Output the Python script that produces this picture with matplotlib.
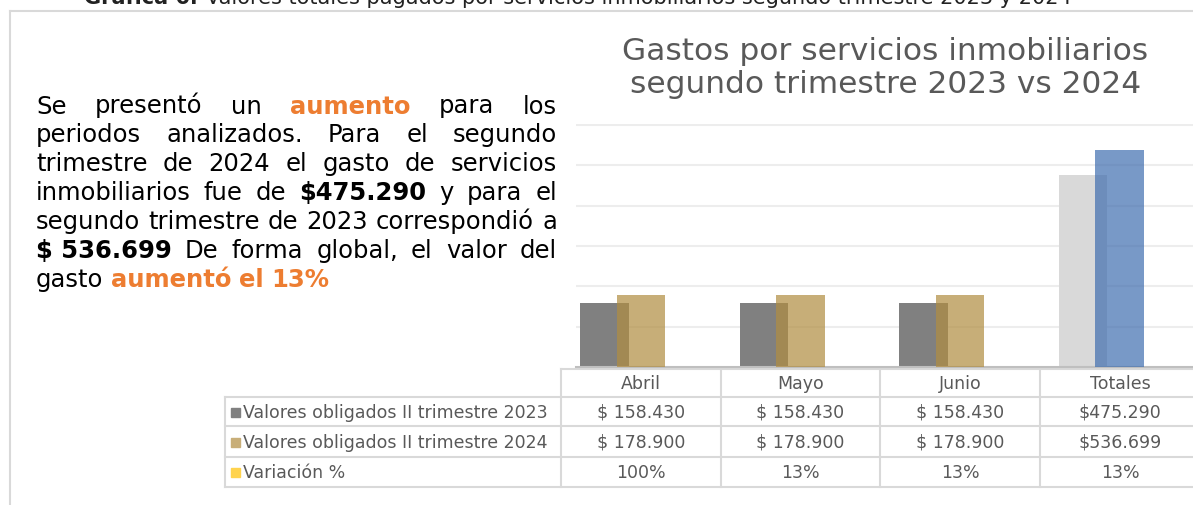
import matplotlib
matplotlib.use("Agg")
import matplotlib.pyplot as plt
import numpy as np

# data
categories = ["Abril", "Mayo", "Junio", "Totales"]
valores_2023 = [158.430, 158.430, 158.430, 475.290]
valores_2024 = [178.900, 178.900, 178.900, 536.699]
labels_2023 = ["$ 158.430", "$ 158.430", "$ 158.430", "$475.290"]
labels_2024 = ["$ 178.900", "$ 178.900", "$ 178.900", "$536.699"]
variacion = ["100%", "13%", "13%", "13%"]
row_names = ["Valores obligados II trimestre 2023",
             "Valores obligados II trimestre 2024",
             "Variación %"]

c2023 = ["#808080", "#808080", "#808080", "#D9D9D9"]
c2024 = ["#B18D41", "#B18D41", "#B18D41", "#416FB0"]
key_colors = ["#808080", "#C8AE78", "#FFD34D"]
orange = "#ED7D31"
grey_txt = "#595959"
line_c = "#D9D9D9"

W, H = 1193, 505
fig = plt.figure(figsize=(W / 100, H / 100), dpi=100, facecolor="w")
r = fig.canvas.get_renderer()

# overlay in pixel coords for text / table
ov = fig.add_axes([0, 0, 1, 1])
ov.set_xlim(0, W)
ov.set_ylim(H, 0)
ov.axis("off")

# bar chart axes (pixel box: x 576..1193, y 125..367)
ax = fig.add_axes([576 / W, (H - 367) / H, (W - 576) / W, (367 - 124) / H])
px = 159.5
x = np.arange(len(categories))
bw = 48.5 / px
off = 36.5 / px
ax.bar(x, valores_2023, width=bw, align="edge", color=c2023, zorder=2)
ax.bar(x + off, valores_2024, width=bw, align="edge", color=c2024, alpha=0.71, zorder=3)
ax.set_xlim(-4 / px, (W - 580) / px)
ax.set_ylim(0, 602)
ax.set_yticks(np.arange(100, 601, 100))
ax.yaxis.grid(True, color="#EDEDED", lw=1.5, zorder=0)
ax.set_xticks([])
ax.tick_params(left=False, labelleft=False)
for s in ["top", "right", "left"]:
    ax.spines[s].set_visible(False)
ax.spines["bottom"].set_color("#BFBFBF")
ax.spines["bottom"].set_linewidth(1.5)
ax.patch.set_alpha(0)

ov.text(885.5, 60, "Gastos por servicios inmobiliarios", ha="center", va="baseline",
        fontsize=22.5, color=grey_txt)
ov.text(885.5, 93, "segundo trimestre 2023 vs 2024", ha="center", va="baseline",
        fontsize=22.5, color=grey_txt)

# caption (cut at top edge as in the source)
cap_b = ov.text(84, 4, "Gráfica 6. ", fontsize=10, fontweight="bold", color="#222222", va="baseline")
cap_n = ov.text(84, 4, "Valores totales pagados por servicios inmobiliarios segundo trimestre 2023 y 2024",
                fontsize=10, color="#222222", va="baseline")
wb = cap_b.get_window_extent(r).width
wn = cap_n.get_window_extent(r).width
k = 989 / (wb + wn)
cap_b.set_fontsize(10 * k)
cap_n.set_fontsize(10 * k)
cap_n.set_x(84 + wb * k)

# frame
ov.plot([10, 10], [11, H], color=line_c, lw=1.5)
ov.plot([10, W], [11, 11], color=line_c, lw=1.5)

# justified paragraph
B = ("bold", "black")
O = ("bold", orange)
N = ("normal", "black")
lines = [
    [("Se", N), ("presentó", N), ("un", N), ("aumento", O), ("para", N), ("los", N)],
    [("periodos", N), ("analizados.", N), ("Para", N), ("el", N), ("segundo", N)],
    [("trimestre", N), ("de", N), ("2024", N), ("el", N), ("gasto", N), ("de", N), ("servicios", N)],
    [("inmobiliarios", N), ("fue", N), ("de", N), ("$475.290", B), ("y", N), ("para", N), ("el", N)],
    [("segundo", N), ("trimestre", N), ("de", N), ("2023", N), ("correspondió", N), ("a", N)],
    [("$ 536.699", B), ("De", N), ("forma", N), ("global,", N), ("el", N), ("valor", N), ("del", N)],
    [("gasto", N), ("aumentó", O), ("el", O), ("13%", O)],
]
fs = 17.5
x0, x1 = 36, 557
y0, dy = 113.5, 28.95
space = ov.text(0, 0, "a a", fontsize=fs)
aa = ov.text(0, 0, "aa", fontsize=fs)
sw = space.get_window_extent(r).width - aa.get_window_extent(r).width
space.remove()
aa.remove()
for i, segs in enumerate(lines):
    y = y0 + i * dy
    ts = [ov.text(0, y, w, fontsize=fs, fontweight=st[0], color=st[1], va="baseline")
          for w, st in segs]
    widths = [t.get_window_extent(r).width for t in ts]
    if i == len(lines) - 1:
        gap = sw
    else:
        gap = (x1 - x0 - sum(widths)) / (len(ts) - 1)
    xp = x0
    for t, wd in zip(ts, widths):
        t.set_x(xp)
        xp += wd + gap

# table
col_edges = [561, 721, 880, 1040, 1200]
row_edges = [369, 397, 426, 457, 487]
tfs = 12.5
for xe in col_edges[:-1]:
    ov.plot([xe, xe], [row_edges[0], row_edges[-1]], color=line_c, lw=1.5)
ov.plot([225, 225], [row_edges[1], row_edges[-1]], color=line_c, lw=1.5)
ov.plot([561, W], [row_edges[0], row_edges[0]], color=line_c, lw=1.5)
for ye in row_edges[1:]:
    ov.plot([225, W], [ye, ye], color=line_c, lw=1.5)

cx = [(col_edges[j] + col_edges[j + 1]) / 2 for j in range(3)] + [1120]
ry = [(row_edges[j] + row_edges[j + 1]) / 2 + 1 for j in range(4)]
for j, c in enumerate(categories):
    ov.text(cx[j], ry[0], c, ha="center", va="center", fontsize=tfs, color=grey_txt)
rows = [labels_2023, labels_2024, variacion]
for i, (name, vals) in enumerate(zip(row_names, rows)):
    yy = ry[i + 1]
    ov.add_patch(plt.Rectangle((231, yy - 5), 9, 9, color=key_colors[i]))
    ov.text(243, yy, name, ha="left", va="center", fontsize=tfs, color=grey_txt)
    for j, v in enumerate(vals):
        ov.text(cx[j], yy, v, ha="center", va="center", fontsize=tfs, color=grey_txt)

plt.savefig("out.png", dpi=100, facecolor="w")
